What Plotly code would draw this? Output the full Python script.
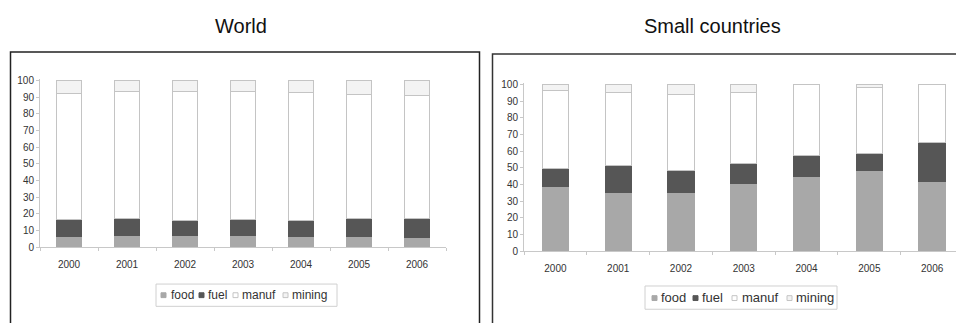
import plotly.graph_objects as go

years = ["2000", "2001", "2002", "2003", "2004", "2005", "2006"]
series_names = ["food", "fuel", "manuf", "mining"]

# World export shares (%) by product group
world_food = [6.4, 7.0, 7.0, 7.0, 6.4, 6.4, 5.8]
world_fuel = [10.1, 10.3, 9.1, 9.7, 9.7, 10.9, 11.5]
world_manuf = [75.9, 75.9, 77.1, 76.5, 76.5, 74.5, 74.0]
world_mining = [7.6, 6.8, 6.8, 6.8, 7.4, 8.2, 8.7]

# Small countries export shares (%) by product group
small_food = [38.8, 35.3, 35.0, 40.6, 44.9, 48.2, 41.7]
small_fuel = [10.7, 16.0, 13.3, 11.8, 12.2, 10.6, 23.5]
small_manuf = [46.6, 43.8, 45.7, 42.7, 42.9, 39.6, 34.8]
small_mining = [3.9, 4.9, 6.0, 4.9, 0.0, 1.6, 0.0]

fill_colors = {"food": "#a8a8a8", "fuel": "#565656", "manuf": "#ffffff", "mining": "#f3f3f3"}
line_colors = {"food": "#a8a8a8", "fuel": "#565656", "manuf": "#c4c4c4", "mining": "#c4c4c4"}

W, H = 956, 323
Y_TOP = 100.8  # a little headroom so the outline of full-height bars is not clipped


def px_x(x):
    return x / W


def px_y(y):
    return 1 - y / H


def y_domain(px_zero, px_hundred):
    # place value 0 and value 100 at the given pixel rows
    per_unit = (px_zero - px_hundred) / 100.0
    top = px_zero - Y_TOP * per_unit
    return [px_y(px_zero), px_y(top)]


fig = go.Figure()

panels = [
    ("x", "y", [world_food, world_fuel, world_manuf, world_mining], 0.43),
    ("x2", "y2", [small_food, small_fuel, small_manuf, small_mining], 0.42),
]
for xa, ya, values, bw in panels:
    for name, vals in zip(series_names, values):
        fig.add_trace(go.Bar(
            x=years, y=vals, name=name, xaxis=xa, yaxis=ya,
            marker=dict(color=fill_colors[name],
                        line=dict(color=line_colors[name], width=1)),
            width=bw, showlegend=False, hoverinfo="skip",
        ))

axis_font = dict(family="Liberation Sans, Arial, sans-serif", size=10, color="#333333")
common_x = dict(type="category", showline=True, linecolor="#c8c8c8", linewidth=1,
                ticks="outside", tickson="boundaries", ticklen=3, tickcolor="#c8c8c8",
                ticklabelstandoff=8,
                showgrid=False, zeroline=False, tickfont=axis_font, fixedrange=True)
common_y = dict(range=[0, Y_TOP], tickvals=list(range(0, 101, 10)), showline=True,
                linecolor="#c8c8c8", linewidth=1, ticks="outside", ticklen=3,
                tickcolor="#c8c8c8", showgrid=False, zeroline=False, tickfont=axis_font,
                fixedrange=True)

shapes = [
    dict(type="path", xref="paper", yref="paper",
         path=f"M {px_x(10.5)} {px_y(330)} L {px_x(10.5)} {px_y(49.5)} L {px_x(479.5)} {px_y(49.5)} L {px_x(479.5)} {px_y(330)}",
         line=dict(color="#222222", width=1.5)),
    dict(type="path", xref="paper", yref="paper",
         path=f"M {px_x(492.5)} {px_y(330)} L {px_x(492.5)} {px_y(51.5)} L {px_x(960)} {px_y(51.5)}",
         line=dict(color="#333333", width=1.5)),
]
annotations = [
    dict(text="World", x=px_x(241), y=px_y(23), xref="paper", yref="paper",
         showarrow=False, xanchor="center", yanchor="middle",
         font=dict(family="Liberation Sans, Arial, sans-serif", size=20, color="#111111")),
    dict(text="Small countries", x=px_x(712), y=px_y(23), xref="paper", yref="paper",
         showarrow=False, xanchor="center", yanchor="middle",
         font=dict(family="Liberation Sans, Arial, sans-serif", size=20, color="#111111")),
]

# Compact legends: frame, small swatches and labels
legend_specs = [
    # frame (x0, y0, x1, y1), text row, font size, swatch left edges, label left edges
    ((156, 289, 337, 312), 300, 12, [161, 199, 233, 283], [169, 206, 240, 290]),
    ((645, 291, 837, 315), 303, 13, [652, 693, 732, 787], [659, 700, 740, 794]),
]
for (fx0, fy0, fx1, fy1), ty, fs, sw_x, tx_x in legend_specs:
    shapes.append(dict(type="rect", xref="paper", yref="paper",
                       x0=px_x(fx0), x1=px_x(fx1), y0=px_y(fy1), y1=px_y(fy0),
                       line=dict(color="#d0d0d0", width=1), fillcolor="#ffffff", layer="above"))
    for name, sx, tx in zip(series_names, sw_x, tx_x):
        shapes.append(dict(type="rect", xref="paper", yref="paper",
                           x0=px_x(sx), x1=px_x(sx + 5), y0=px_y(ty + 3), y1=px_y(ty - 2),
                           line=dict(color=line_colors[name], width=1),
                           fillcolor=fill_colors[name], layer="above"))
        annotations.append(dict(text=name, x=px_x(tx), y=px_y(ty), xref="paper", yref="paper",
                                showarrow=False, xanchor="left", yanchor="middle",
                                font=dict(family="Liberation Sans, Arial, sans-serif",
                                          size=fs, color="#333333")))

fig.update_layout(
    width=W, height=H,
    margin=dict(l=0, r=0, t=0, b=0),
    paper_bgcolor="#ffffff", plot_bgcolor="#ffffff",
    barmode="stack",
    showlegend=False,
    xaxis=dict(common_x, domain=[px_x(40), px_x(446)], range=[-0.5, 6.5], anchor="y"),
    yaxis=dict(common_y, domain=y_domain(251, 79), anchor="x"),
    xaxis2=dict(common_x, domain=[px_x(524), 1.0], range=[-0.5, 6.38], anchor="y2"),
    yaxis2=dict(common_y, domain=y_domain(255, 83), anchor="x2"),
    shapes=shapes,
    annotations=annotations,
)

fig.write_html("out.html", config={"displayModeBar": False})
